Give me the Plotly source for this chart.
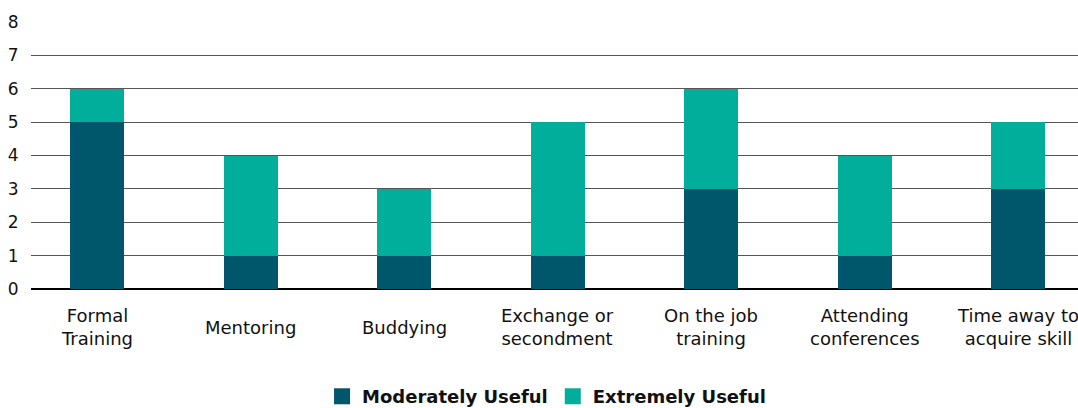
import plotly.graph_objects as go

categories = ["Formal<br>Training", "Mentoring", "Buddying", "Exchange or<br>secondment",
              "On the job<br>training", "Attending<br>conferences", "Time away to<br>acquire skill"]
moderately_useful = [5, 1, 1, 1, 3, 1, 3]
extremely_useful = [1, 3, 2, 4, 3, 3, 2]
y_ticks = [0, 1, 2, 3, 4, 5, 6, 7, 8]
series_names = ["Moderately Useful", "Extremely Useful"]

DARK = "#00566A"
TEAL = "#00AE9B"
FONT = "DejaVu Sans, Liberation Sans, sans-serif"
TXT = "#111111"

fig = go.Figure()
fig.add_trace(go.Bar(x=categories, y=moderately_useful, name=series_names[0], showlegend=False,
                     marker=dict(color=DARK, line=dict(width=0))))
fig.add_trace(go.Bar(x=categories, y=extremely_useful, name=series_names[1], showlegend=False,
                     marker=dict(color=TEAL, line=dict(width=0))))
# legend proxies (bigger square swatches)
for nm, col in zip(series_names, [DARK, TEAL]):
    fig.add_trace(go.Scatter(x=[None], y=[None], mode="markers", name=nm,
                             marker=dict(symbol="square", size=19, color=col)))

for cat in categories:
    fig.add_annotation(x=cat, y=0, xref="x", yref="y", text=cat, showarrow=False,
                       yanchor="middle", xanchor="center", yshift=-38,
                       font=dict(family=FONT, size=18, color=TXT))

fig.update_layout(
    barmode="stack",
    bargap=0.648,
    width=1078, height=408,
    margin=dict(l=31, r=0, t=22, b=119),
    paper_bgcolor="white", plot_bgcolor="white",
    font=dict(family=FONT, size=18, color=TXT),
    showlegend=True,
    legend=dict(orientation="h", x=0.507, xref="container", xanchor="center",
                y=0.028, yref="container", yanchor="middle",
                font=dict(family=FONT, size=18, color=TXT, weight="bold"),
                itemwidth=30, tracegroupgap=0, traceorder="normal"),
)
fig.update_xaxes(range=[-0.43, 6.39], showgrid=False, showline=False, zeroline=False,
                 showticklabels=False, ticks="")
fig.update_yaxes(range=[0, 8], tickvals=y_ticks, showgrid=True, gridcolor="#555555", gridwidth=1,
                 zeroline=True, zerolinecolor="#000000", zerolinewidth=1.5, showline=False,
                 ticks="outside", ticklen=8, tickcolor="rgba(0,0,0,0)",
                 tickfont=dict(family=FONT, size=17, color=TXT))

fig.write_html("out.html")
